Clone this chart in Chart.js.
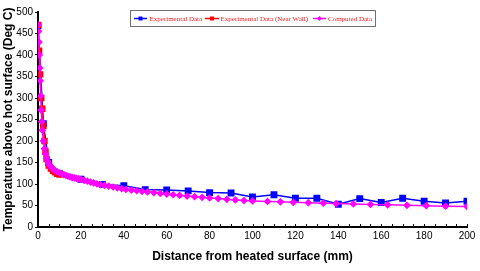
<!DOCTYPE html>
<html><head><meta charset="utf-8">
<script src="https://cdn.jsdelivr.net/npm/chart.js@4.4.1/dist/chart.umd.min.js"></script>
<style>html,body{margin:0;padding:0;background:#fff;}canvas{display:block;}</style>
</head><body>
<canvas id="c" width="480" height="271"></canvas>
<script>
const seriesLabels = ["Experimental Data", "Experimental Data (Near Wall)", "Computed Data"];
const expX = [0,2.5,5,10,20,30,40,50,60,70,80,90,100,110,120,130,140,150,160,170,180,190,200];
const expY = [468,240,150,124,111,99,96,87,86,84,80,79,70,75,67,67,53,66,57,67,60,56,60];
const nearX = [0,0.5,1,1.5,2,2.5,3,3.5,4,5,6,7,8,9,10];
const nearY = [470,410,355,300,275,235,200,175,158,143,136,131,127,124,122];
const compX = [0,0.2,0.4,0.6,0.8,1,1.25,1.5,1.75,2,2.5,3,3.5,4,4.5,5,5.5,6,6.5,7,7.5,8,9,10,11,12,13,14,15,16,17,18,19,20,21.5,23,24.5,26,27.5,29,31,33,35,37,39,41,43.5,46,48.5,51,54,57,60,63,66,69.5,73,76.5,80,84,88,92,96,100,107,113,119,126,133,139,147,155,163,172,181,190,200];
const compY = [470,455,430,400,370,340,305,272,245,225,200,182,170,160,153,147,143,140,137,135,133,131,128,126,124,122,120,118,116.5,115,114,113,112,110.5,108.5,106.5,104.5,102.5,100.5,98.5,97,95,93,91,89,87.5,86,84.5,83,81.5,80,78,76.5,75,73.5,72,70.5,69,67.5,66,64.5,63,61.5,60.5,59.5,58.5,57.5,56.5,55.5,54.5,53.5,52.5,51.5,50.5,49.5,48.5,47.5];
const xTickStep = 20, yTickStep = 50, xMinorStep = 5;

const pts = (xs, ys) => xs.map((x, i) => ({x: x, y: ys[i]}));

const legendBox = {
  id: 'legendBox',
  afterDraw(chart) {
    const ctx = chart.ctx;
    ctx.save();
    ctx.fillStyle = '#fff';
    ctx.fillRect(131, 11, 244, 15);
    ctx.strokeStyle = '#707070';
    ctx.lineWidth = 1;
    ctx.strokeRect(130.5, 10.5, 245, 16);
    const items = [
      {ds: 0, l0: 134, l1: 147, t: 149.5},
      {ds: 1, l0: 205, l1: 219, t: 220.5},
      {ds: 2, l0: 313, l1: 326, t: 328}
    ];
    const yy = 18.5;
    items.forEach(it => {
      const d = chart.data.datasets[it.ds];
      ctx.strokeStyle = d.borderColor;
      ctx.lineWidth = 1.5;
      ctx.beginPath(); ctx.moveTo(it.l0, yy); ctx.lineTo(it.l1, yy); ctx.stroke();
      ctx.fillStyle = d.borderColor;
      const cx = (it.l0 + it.l1) / 2;
      if (d.pointStyle === 'rectRot') {
        ctx.beginPath(); ctx.moveTo(cx, yy - 2.5); ctx.lineTo(cx + 2.5, yy); ctx.lineTo(cx, yy + 2.5); ctx.lineTo(cx - 2.5, yy); ctx.closePath(); ctx.fill();
      } else {
        ctx.fillRect(cx - 2, yy - 2, 4, 4);
      }
      ctx.fillStyle = '#ff1a1a';
      ctx.font = '7px "Liberation Serif", serif';
      ctx.textBaseline = 'middle';
      ctx.textAlign = 'left';
      ctx.fillText(d.label, it.t, yy + 0.5);
    });
    ctx.restore();
  }
};

const minorTicks = {
  id: 'minorTicks',
  afterDraw(chart) {
    const xs = chart.scales.x, ctx = chart.ctx;
    const yb = chart.chartArea.bottom;
    ctx.save();
    ctx.strokeStyle = '#000';
    ctx.lineWidth = 1;
    for (let v = xs.min; v <= xs.max; v += xMinorStep) {
      const px = Math.round(xs.getPixelForValue(v)) + 0.5;
      ctx.beginPath(); ctx.moveTo(px, yb); ctx.lineTo(px, yb - 3); ctx.stroke();
    }
    ctx.restore();
  }
};

new Chart(document.getElementById('c'), {
  type: 'line',
  data: {
    datasets: [
      {label: seriesLabels[0], data: pts(expX, expY), borderColor: '#0000ff', backgroundColor: '#0000ff',
       borderWidth: 1.5, pointStyle: 'rect', pointRadius: 3.8, tension: 0, order: 2},
      {label: seriesLabels[1], data: pts(nearX, nearY), borderColor: '#ff0000', backgroundColor: '#ff0000',
       borderWidth: 1.5, pointStyle: 'rect', pointRadius: 3.5, tension: 0, order: 1},
      {label: seriesLabels[2], data: pts(compX, compY), borderColor: '#ff00ff', backgroundColor: '#ff00ff',
       borderWidth: 1.5, pointStyle: 'rectRot', pointRadius: 2.8, tension: 0, order: 0}
    ]
  },
  options: {
    responsive: false,
    animation: false,
    devicePixelRatio: 1,
    layout: {padding: {top: 12, right: 13, left: 0, bottom: 0}},
    plugins: {legend: {display: false}, tooltip: {enabled: false}},
    elements: {point: {borderWidth: 0}},
    scales: {
      x: {
        type: 'linear', min: 0, max: 200,
        afterFit(s) { s.height = 44; },
        ticks: {stepSize: xTickStep, color: '#000', padding: 3, maxRotation: 0,
                font: {family: '"Liberation Sans", Arial, sans-serif', size: 10}},
        grid: {display: false, drawTicks: false},
        border: {display: true, color: '#000', width: 2},
        title: {display: true, text: 'Distance from heated surface (mm)', color: '#000',
                font: {family: '"Liberation Sans", Arial, sans-serif', size: 12, weight: 'bold'},
                padding: {top: 0, bottom: 7}}
      },
      y: {
        type: 'linear', min: 0, max: 500,
        afterFit(s) { s.width = 38; },
        ticks: {stepSize: yTickStep, color: '#000', padding: 2,
                font: {family: '"Liberation Sans", Arial, sans-serif', size: 10}},
        grid: {display: true, drawOnChartArea: false, drawTicks: true, tickLength: 3, color: '#000', lineWidth: 1},
        border: {display: true, color: '#000', width: 2},
        title: {display: true, text: 'Temperature above hot surface (Deg C)', color: '#000',
                font: {family: '"Liberation Sans", Arial, sans-serif', size: 12, weight: 'bold'},
                padding: {top: 1, bottom: 0}}
      }
    }
  },
  plugins: [legendBox, minorTicks]
});
</script>
</body></html>
